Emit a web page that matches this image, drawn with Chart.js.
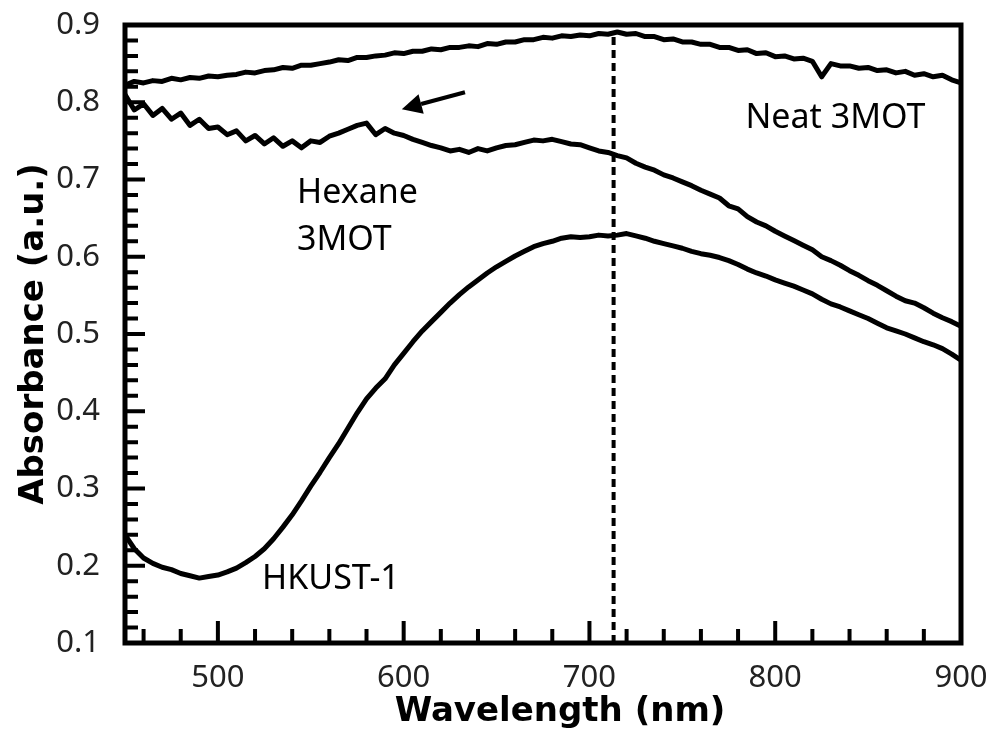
<html>
<head>
<script src="https://cdn.jsdelivr.net/npm/chart.js@4.4.0/dist/chart.umd.min.js"></script>
<style>
    body { margin: 0; background: #fff; }
</style>
</head>
<body>
<canvas id="myChart" width="986" height="742"></canvas>
<script>
    // wavelength (nm), sampled every 5 nm
    const wavelength = [
        450, 455, 460, 465, 470, 475, 480, 485, 490, 495,
        500, 505, 510, 515, 520, 525, 530, 535, 540, 545,
        550, 555, 560, 565, 570, 575, 580, 585, 590, 595,
        600, 605, 610, 615, 620, 625, 630, 635, 640, 645,
        650, 655, 660, 665, 670, 675, 680, 685, 690, 695,
        700, 705, 710, 715, 720, 725, 730, 735, 740, 745,
        750, 755, 760, 765, 770, 775, 780, 785, 790, 795,
        800, 805, 810, 815, 820, 825, 830, 835, 840, 845,
        850, 855, 860, 865, 870, 875, 880, 885, 890, 895, 900
    ];

    const neat3MOT = [
        0.822, 0.827, 0.825, 0.828, 0.827, 0.831, 0.829, 0.832, 0.831, 0.834,
        0.833, 0.835, 0.836, 0.839, 0.838, 0.841, 0.842, 0.845, 0.844, 0.848,
        0.848, 0.850, 0.852, 0.855, 0.854, 0.858, 0.858, 0.860, 0.861, 0.864,
        0.863, 0.866, 0.866, 0.869, 0.868, 0.871, 0.871, 0.873, 0.872, 0.876,
        0.875, 0.878, 0.878, 0.881, 0.881, 0.884, 0.883, 0.886, 0.885, 0.887,
        0.886, 0.889, 0.888, 0.891, 0.888, 0.889, 0.885, 0.885, 0.881, 0.882,
        0.878, 0.878, 0.875, 0.875, 0.871, 0.871, 0.867, 0.868, 0.863, 0.864,
        0.859, 0.860, 0.856, 0.857, 0.853, 0.833, 0.850, 0.847, 0.847, 0.844,
        0.845, 0.841, 0.842, 0.838, 0.840, 0.835, 0.837, 0.833, 0.835, 0.829, 0.825
    ];

    const hexane3MOT = [
        0.810, 0.790, 0.798, 0.783, 0.792, 0.778, 0.786, 0.770, 0.778, 0.766,
        0.768, 0.758, 0.763, 0.750, 0.757, 0.746, 0.754, 0.743, 0.750, 0.741,
        0.750, 0.748, 0.756, 0.760, 0.765, 0.770, 0.773, 0.758, 0.766, 0.760,
        0.757, 0.752, 0.748, 0.744, 0.741, 0.737, 0.739, 0.735, 0.740, 0.737,
        0.741, 0.744, 0.745, 0.748, 0.751, 0.750, 0.752, 0.749, 0.746, 0.745,
        0.741, 0.737, 0.735, 0.731, 0.728, 0.721, 0.716, 0.712, 0.706, 0.702,
        0.697, 0.692, 0.686, 0.681, 0.676, 0.666, 0.662, 0.652, 0.645, 0.640,
        0.633, 0.627, 0.621, 0.615, 0.609, 0.600, 0.595, 0.589, 0.582, 0.576,
        0.569, 0.563, 0.556, 0.549, 0.543, 0.540, 0.534, 0.527, 0.521, 0.516, 0.510
    ];

    const hkust1 = [
        0.240, 0.222, 0.210, 0.203, 0.198, 0.195, 0.190, 0.187, 0.184, 0.186,
        0.188, 0.192, 0.197, 0.204, 0.212, 0.222, 0.235, 0.250, 0.266, 0.284,
        0.303, 0.321, 0.340, 0.358, 0.378, 0.398, 0.416, 0.430, 0.442, 0.460,
        0.475, 0.490, 0.504, 0.516, 0.528, 0.540, 0.551, 0.561, 0.570, 0.579,
        0.587, 0.594, 0.601, 0.607, 0.613, 0.617, 0.620, 0.624, 0.626, 0.625,
        0.626, 0.628, 0.627, 0.628, 0.630, 0.627, 0.624, 0.620, 0.617, 0.614,
        0.611, 0.607, 0.604, 0.602, 0.599, 0.595, 0.590, 0.584, 0.579, 0.575,
        0.570, 0.566, 0.562, 0.557, 0.552, 0.545, 0.539, 0.535, 0.530, 0.525,
        0.520, 0.514, 0.508, 0.504, 0.500, 0.495, 0.490, 0.486, 0.481, 0.474, 0.466
    ];

    // dashed marker at the absorption maximum
    const peakX = [713, 713];
    const peakY = [0.1, 0.89];

    // curve labels: text, wavelength, absorbance (baseline, left edge)
    const labelTexts = ['Neat 3MOT', 'Hexane', '3MOT', 'HKUST-1'];
    const labelX = [784, 542.6, 542.6, 523.8];
    const labelY = [0.767, 0.670, 0.609, 0.170];

    // arrow: tail -> tip (data units)
    const arrowX = [633, 599];
    const arrowY = [0.813, 0.791];

    function pts(xs, ys) {
        return xs.map((v, i) => ({ x: v, y: ys[i] }));
    }

    const lineStyle = {
        borderColor: '#000',
        borderWidth: 5,
        borderJoinStyle: 'round',
        pointRadius: 0,
        tension: 0,
        fill: false
    };

    const boxAndTicks = {
        id: 'boxAndTicks',
        afterDatasetsDraw(chart) {
            const { ctx, chartArea: a, scales: { x, y } } = chart;
            ctx.save();
            ctx.strokeStyle = '#000';
            ctx.lineWidth = 5;
            ctx.strokeRect(a.left, a.top, a.right - a.left, a.bottom - a.top);

            // inward ticks: x every 20 nm, y every 0.02
            ctx.lineWidth = 4;
            ctx.beginPath();
            for (let v = 460; v <= 900; v += 20) {
                const px = x.getPixelForValue(v);
                const len = v % 100 === 0 ? 22 : 14;
                ctx.moveTo(px, a.bottom);
                ctx.lineTo(px, a.bottom - len);
            }
            for (let k = 6; k <= 45; k++) {
                const py = y.getPixelForValue(k * 0.02);
                const len = k % 5 === 0 ? 20 : 13;
                ctx.moveTo(a.left, py);
                ctx.lineTo(a.left + len, py);
            }
            ctx.stroke();

            // curve labels
            ctx.fillStyle = '#000';
            ctx.font = '34px "Noto Sans"';
            ctx.textAlign = 'left';
            ctx.textBaseline = 'alphabetic';
            labelTexts.forEach((t, i) => {
                ctx.fillText(t, x.getPixelForValue(labelX[i]), y.getPixelForValue(labelY[i]));
            });

            // arrow
            const x0 = x.getPixelForValue(arrowX[0]), y0 = y.getPixelForValue(arrowY[0]);
            const x1 = x.getPixelForValue(arrowX[1]), y1 = y.getPixelForValue(arrowY[1]);
            const ang = Math.atan2(y1 - y0, x1 - x0);
            const hl = 20, hw = 10;
            const bx = x1 - hl * Math.cos(ang), by = y1 - hl * Math.sin(ang);
            ctx.beginPath();
            ctx.moveTo(x0, y0);
            ctx.lineTo(bx, by);
            ctx.stroke();
            ctx.beginPath();
            ctx.moveTo(x1, y1);
            ctx.lineTo(bx + hw * Math.sin(ang), by - hw * Math.cos(ang));
            ctx.lineTo(bx - hw * Math.sin(ang), by + hw * Math.cos(ang));
            ctx.closePath();
            ctx.fill();
            ctx.restore();
        }
    };

    new Chart('myChart', {
        type: 'line',
        data: {
            datasets: [
                Object.assign({ label: 'Neat 3MOT', data: pts(wavelength, neat3MOT) }, lineStyle),
                Object.assign({ label: 'Hexane 3MOT', data: pts(wavelength, hexane3MOT) }, lineStyle),
                Object.assign({ label: 'HKUST-1', data: pts(wavelength, hkust1) }, lineStyle),
                Object.assign({ label: 'peak', data: pts(peakX, peakY) }, lineStyle, { borderWidth: 4, borderDash: [8, 5] })
            ]
        },
        options: {
            responsive: false,
            animation: false,
            layout: { padding: { left: 0, right: 25, top: 25, bottom: 0 } },
            plugins: { legend: { display: false }, tooltip: { enabled: false } },
            scales: {
                x: {
                    type: 'linear',
                    min: 450,
                    max: 900,
                    grid: { display: false },
                    border: { display: false },
                    ticks: {
                        stepSize: 100,
                        includeBounds: false,
                        padding: 9,
                        color: '#222',
                        font: { family: 'Noto Sans', size: 31 }
                    },
                    title: {
                        display: true,
                        // leading em space nudges the title right, as in the original
                        text: '\u2003Wavelength (nm)',
                        color: '#000',
                        padding: { top: 0, bottom: 9 },
                        font: { family: 'DejaVu Sans', size: 34, weight: 'bold' }
                    },
                    afterFit(scale) {
                        scale.height = 99;
                        scale.paddingLeft = 0;
                        scale.paddingRight = 0;
                    }
                },
                y: {
                    min: 0.1,
                    max: 0.9,
                    grid: { display: false },
                    border: { display: false },
                    ticks: {
                        stepSize: 0.1,
                        padding: 17,
                        color: '#222',
                        font: { family: 'Noto Sans', size: 31 },
                        callback: (v) => v.toFixed(1)
                    },
                    title: {
                        display: true,
                        text: 'Absorbance (a.u.)',
                        color: '#000',
                        padding: { top: 14, bottom: 0 },
                        font: { family: 'DejaVu Sans', size: 34, weight: 'bold' }
                    },
                    afterFit(scale) {
                        scale.width = 125;
                        scale.paddingTop = 0;
                        scale.paddingBottom = 0;
                    }
                }
            }
        },
        plugins: [boxAndTicks]
    });
</script>
</body>
</html>
